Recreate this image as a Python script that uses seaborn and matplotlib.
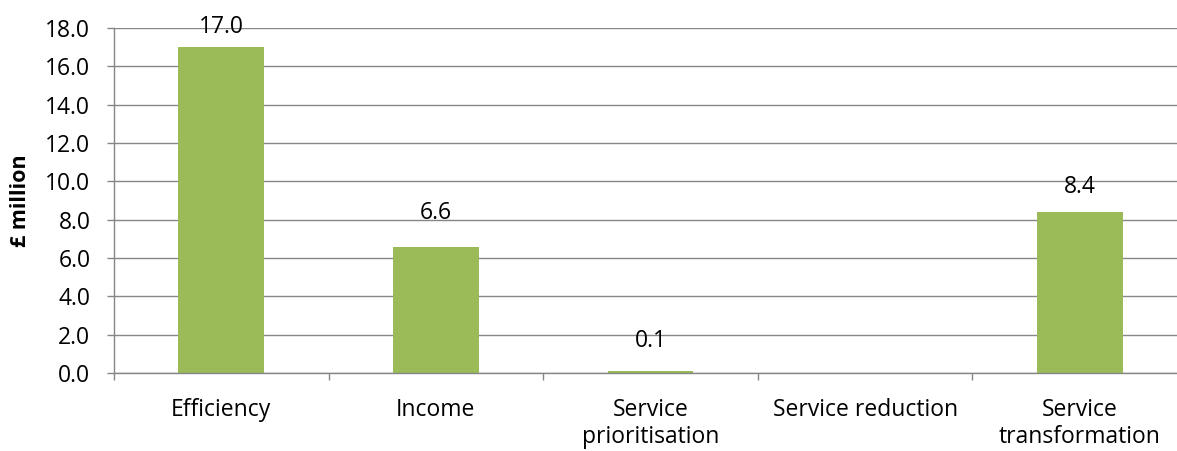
import numpy as np
import pandas as pd
import matplotlib
matplotlib.use("Agg")
import matplotlib.pyplot as plt
import seaborn as sns
from matplotlib.ticker import FixedLocator, FormatStrFormatter

categories = ["Efficiency", "Income", "Service\nprioritisation", "Service reduction", "Service\ntransformation"]
values = [17.0, 6.6, 0.1, np.nan, 8.4]
y_ticks = [0, 2, 4, 6, 8, 10, 12, 14, 16, 18]

# label offsets above the bar tops (points)
label_offsets = [10, 19.5, 17.5, 0, 13.5]

sns.set_theme(style="white")
plt.rcParams['font.family'] = ['Open Sans', 'DejaVu Sans']

GRID = "#868686"
BAR = "#9BBB59"
FS = 16.5

df = pd.DataFrame({"category": categories, "value": values})

fig = plt.figure(figsize=(11.77, 4.51), dpi=100)
ax = fig.add_axes([114/1177, 1 - 373/451, (1187 - 114)/1177, (373 - 28)/451])

sns.barplot(data=df, x="category", y="value", color=BAR, width=0.4,
            saturation=1, ax=ax, order=categories, linewidth=0)

ax.set_xlim(-0.5, 4.5)
ax.set_ylim(0, 18)
ax.yaxis.set_major_locator(FixedLocator(y_ticks))
ax.yaxis.set_major_formatter(FormatStrFormatter("%.1f"))
ax.grid(axis="y", color=GRID, linewidth=1.0)
ax.set_axisbelow(True)

for s in ["top", "right"]:
    ax.spines[s].set_visible(False)
for s in ["left", "bottom"]:
    ax.spines[s].set_color(GRID)
    ax.spines[s].set_linewidth(1.0)

ax.tick_params(axis="y", which="major", direction="out", length=5, width=1.0,
               color=GRID, labelsize=FS, labelcolor="black", pad=12, left=True)
ax.tick_params(axis="x", which="major", length=0, labelsize=FS, labelcolor="black", pad=18)
ax.xaxis.set_minor_locator(FixedLocator([-0.5, 0.5, 1.5, 2.5, 3.5, 4.5]))
ax.tick_params(axis="x", which="minor", direction="out", length=5, width=1.0,
               color=GRID, bottom=True)
for lbl in ax.get_xticklabels():
    lbl.set_linespacing(1.15)

ax.set_xlabel("")
ax.set_ylabel("£ million", fontsize=15.5, fontweight="bold", color="black", labelpad=10)

for i, v in enumerate(values):
    if not np.isnan(v):
        ax.annotate(f"{v:.1f}", xy=(i, v), xytext=(0, label_offsets[i]), textcoords="offset points",
                    ha="center", va="baseline", fontsize=FS, color="black",
                    annotation_clip=False)

fig.savefig("out.png", dpi=100)
